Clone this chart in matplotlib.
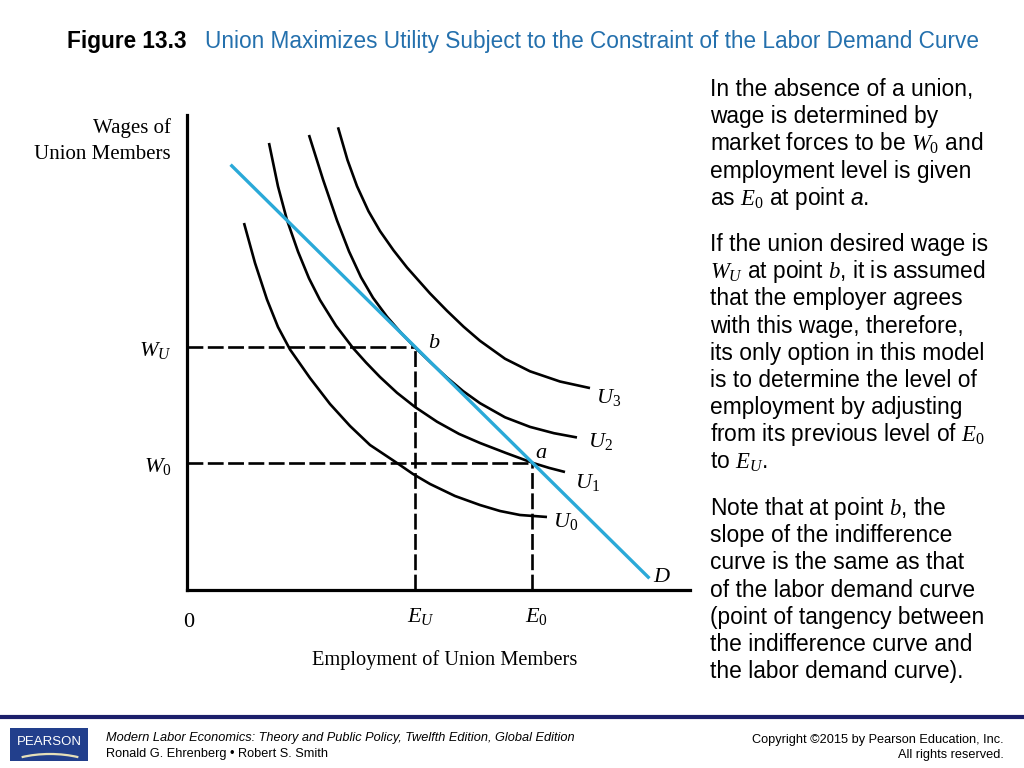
import matplotlib
matplotlib.use("Agg")
import matplotlib.pyplot as plt
from matplotlib.patches import Rectangle, Arc

plt.rcParams['font.family'] = ['Liberation Sans', 'DejaVu Sans']
plt.rcParams['mathtext.fontset'] = 'custom'
plt.rcParams['mathtext.rm'] = 'Liberation Serif'
plt.rcParams['mathtext.it'] = 'Liberation Serif:italic'
plt.rcParams['mathtext.sf'] = 'Liberation Sans:italic'

# levels on the axes (axis units 0-100)
w_union, w_zero = 51.2, 26.7
e_union, e_zero = 45.3, 68.6

# labor demand curve D
demand_x = [8.9, 91.7]
demand_y = [89.3, 2.7]

# indifference curves
u0_x = [11.33, 13.52, 15.90, 18.09, 20.48, 24.45, 28.43, 32.41, 36.38, 41.75,
        44.93, 48.31, 53.28, 58.25, 62.23, 66.20, 71.57]
u0_y = [77.26, 68.84, 61.16, 55.37, 50.63, 44.63, 39.16, 34.53, 30.53, 26.74,
        24.42, 22.32, 19.79, 17.89, 16.63, 15.79, 15.37]

u1_x = [16.30, 18.09, 19.88, 22.07, 24.25, 26.44, 29.62, 33.00, 35.59, 38.37,
        41.75, 45.33, 49.70, 54.08, 58.25, 63.42, 68.79, 71.97, 75.15]
u1_y = [94.11, 84.97, 77.89, 71.24, 65.62, 61.05, 55.64, 50.95, 47.89, 44.84,
        41.52, 38.53, 35.43, 32.86, 30.95, 28.84, 26.74, 25.71, 24.84]

u2_x = [24.25, 27.04, 29.82, 32.21, 34.59, 36.98, 39.76, 42.54, 45.33, 48.51,
        51.69, 54.87, 58.25, 63.22, 68.19, 72.96, 77.53]
u2_y = [95.79, 86.42, 77.81, 71.28, 65.85, 61.52, 57.54, 54.15, 51.07, 47.81,
        44.72, 41.89, 39.33, 36.36, 34.34, 33.01, 32.11]

u3_x = [30.02, 31.91, 33.80, 36.08, 38.37, 41.05, 43.74, 48.31, 51.69, 54.97,
        58.25, 63.22, 68.19, 74.16, 80.12]
u3_y = [97.41, 90.51, 85.01, 79.75, 75.57, 71.52, 67.89, 62.44, 58.78, 55.45,
        52.46, 48.69, 46.04, 43.89, 42.51]

curves = [(u0_x, u0_y), (u1_x, u1_y), (u2_x, u2_y), (u3_x, u3_y)]

para1 = ["In the absence of a union,",
         "wage is determined by",
         r"market forces to be $W_0$ and",
         "employment level is given",
         r"as $E_0$ at point $\mathsf{a}$."]
para2 = ["If the union desired wage is",
         r"$W_U$ at point $b$, it is assumed",
         "that the employer agrees",
         "with this wage, therefore,",
         "its only option in this model",
         "is to determine the level of",
         "employment by adjusting",
         r"from its previous level of $E_0$",
         r"to $E_U$."]
para3 = [r"Note that at point $b$, the",
         "slope of the indifference",
         "curve is the same as that",
         "of the labor demand curve",
         "(point of tangency between",
         "the indifference curve and",
         "the labor demand curve)."]

fig = plt.figure(figsize=(10.24, 7.68), dpi=100)

# background axes in pixel units for slide text and footer
bg = fig.add_axes([0, 0, 1, 1])
bg.set_xlim(0, 1024)
bg.set_ylim(768, 0)
bg.axis('off')

bg.text(67, 48, "Figure 13.3", fontsize=16.3, fontweight='bold', color='black')
bg.text(205, 48, "Union Maximizes Utility Subject to the Constraint of the Labor Demand Curve",
        fontsize=16.3, color='#2470ad')

for paragraph, top in [(para1, 96), (para2, 251), (para3, 515)]:
    for i, line in enumerate(paragraph):
        bg.text(710, top + i * 27.2, line, fontsize=16.4, color='black', va='baseline')

bg.text(171, 133, "Wages of", fontsize=15, family='Liberation Serif', ha='right', va='baseline')
bg.text(171, 159, "Union Members", fontsize=15, family='Liberation Serif', ha='right', va='baseline')

# footer
bg.plot([0, 1024], [717, 717], color='#1b1f6b', lw=3)
bg.add_patch(Rectangle((10, 728), 78, 33, facecolor='#223f8c', edgecolor='none'))
bg.text(49, 745, "PEARSON", color='white', fontsize=9.5, ha='center', va='baseline')
bg.add_patch(Arc((50, 781), 120, 54, theta1=220, theta2=320, color='#e6dfb8', lw=1.6))
bg.text(106, 741, "Modern Labor Economics: Theory and Public Policy, Twelfth Edition, Global Edition",
        fontsize=9.2, style='italic', va='baseline')
bg.text(106, 757, "Ronald G. Ehrenberg \u2022 Robert S. Smith", fontsize=9.2, va='baseline')
bg.text(1004, 743, "Copyright \u00a92015 by Pearson Education, Inc.", fontsize=9.2,
        ha='right', va='baseline')
bg.text(1004, 758, "All rights reserved.", fontsize=9.2, ha='right', va='baseline')

# diagram axes
ax = fig.add_axes([187 / 1024, 178 / 768, 503 / 1024, 475 / 768])
ax.set_xlim(0, 100)
ax.set_ylim(0, 100)
ax.patch.set_alpha(0)
for side in ['top', 'right']:
    ax.spines[side].set_visible(False)
for side in ['left', 'bottom']:
    ax.spines[side].set_linewidth(2.3)
    ax.spines[side].set_color('black')
ax.set_xticks([])
ax.set_yticks([])

dash = dict(color='black', lw=1.9, dashes=(6, 1.7), zorder=2)
ax.plot([0, e_union], [w_union, w_union], **dash)
ax.plot([e_union, e_union], [0, w_union], **dash)
ax.plot([0, e_zero], [w_zero, w_zero], **dash)
ax.plot([e_zero, e_zero], [0, w_zero], **dash)

for cx, cy in curves:
    ax.plot(cx, cy, color='black', lw=1.9, solid_capstyle='butt',
            solid_joinstyle='round', zorder=3, clip_on=False)

ax.plot(demand_x, demand_y, color='#2aa9d8', lw=2.4, zorder=4, clip_on=False)

mfs = 16
ax.text(-3, w_union - 1.9, r'$W_U$', fontsize=mfs, ha='right', va='baseline')
ax.text(-3, w_zero - 1.9, r'$W_0$', fontsize=mfs, ha='right', va='baseline')
ax.text(0.3, -7.7, '0', fontsize=mfs, family='Liberation Serif', ha='center', va='baseline')
ax.text(e_union - 1.5, -6.8, r'$E_U$', fontsize=mfs, ha='left', va='baseline')
ax.text(e_zero - 1.5, -6.8, r'$E_0$', fontsize=mfs, ha='left', va='baseline')
ax.text(51.2, -15.8, "Employment of Union Members", fontsize=14.7, family='Liberation Serif',
        ha='center', va='baseline')

ax.text(e_union + 2.6, w_union - 0.3, r'$b$', fontsize=mfs, va='baseline')
ax.text(e_zero + 0.6, w_zero + 1.1, r'$a$', fontsize=mfs, va='baseline')
ax.text(81.3, 39.4, r'$U_3$', fontsize=mfs, va='baseline')
ax.text(79.7, 30.1, r'$U_2$', fontsize=mfs, va='baseline')
ax.text(77.1, 21.5, r'$U_1$', fontsize=mfs, va='baseline')
ax.text(72.7, 13.3, r'$U_0$', fontsize=mfs, va='baseline')
ax.text(92.6, 1.7, r'$D$', fontsize=mfs, va='baseline')

fig.savefig("out.png", dpi=100)
